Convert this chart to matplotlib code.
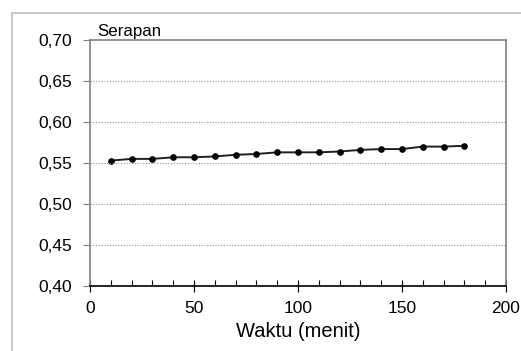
import matplotlib.pyplot as plt
from matplotlib.patches import Rectangle
from matplotlib.ticker import FuncFormatter, MultipleLocator

waktu = [10, 20, 30, 40, 50, 60, 70, 80, 90, 100, 110, 120, 130, 140, 150, 160, 170, 180]
serapan = [0.553, 0.555, 0.555, 0.557, 0.557, 0.558, 0.560, 0.561, 0.563, 0.563,
           0.563, 0.564, 0.566, 0.567, 0.567, 0.570, 0.570, 0.571]

plt.rcParams['font.family'] = ['Liberation Sans', 'DejaVu Sans']

fig = plt.figure(figsize=(5.21, 3.51), dpi=100)
# light frame round the chart area
fig.patches.append(Rectangle((12 / 521, -0.1), 1.2, 1 - 13 / 351 + 0.1, transform=fig.transFigure,
                             fill=False, edgecolor='#c0c0c0', linewidth=1.2))
ax = fig.add_axes([90 / 521, 65 / 351, 416 / 521, 246 / 351])

ax.plot(waktu, serapan, color='#202020', linewidth=1.4, marker='o', markersize=3.8,
        markerfacecolor='black', markeredgecolor='black')

ax.set_xlim(0, 200)
ax.set_ylim(0.40, 0.70)
ax.xaxis.set_major_locator(MultipleLocator(50))
ax.xaxis.set_minor_locator(MultipleLocator(10))
ax.yaxis.set_major_locator(MultipleLocator(0.05))
ax.yaxis.set_major_formatter(FuncFormatter(lambda v, p: f'{v:.2f}'.replace('.', ',')))

for y in [0.45, 0.50, 0.55, 0.60, 0.65]:
    ax.axhline(y, color='#909090', linestyle=(0, (1, 1.5)), linewidth=0.8)

for s in ['left', 'right', 'top']:
    ax.spines[s].set_color('#808080')
    ax.spines[s].set_linewidth(1.2)
ax.spines['bottom'].set_color('black')
ax.spines['bottom'].set_linewidth(1.2)

ax.tick_params(axis='x', which='major', direction='inout', length=8, width=0.8, labelsize=12.5, pad=7)
ax.tick_params(axis='x', which='minor', direction='in', length=4, width=0.8)
ax.tick_params(axis='y', which='major', direction='out', length=5, width=0.8, color='#808080',
               labelsize=12.5, pad=8)

ax.set_xlabel('Waktu (menit)', fontsize=14.5, labelpad=4)
ax.text(0.017, 1.005, 'Serapan', transform=ax.transAxes, fontsize=12.2, ha='left', va='bottom')

fig.savefig('out.png', dpi=100)
